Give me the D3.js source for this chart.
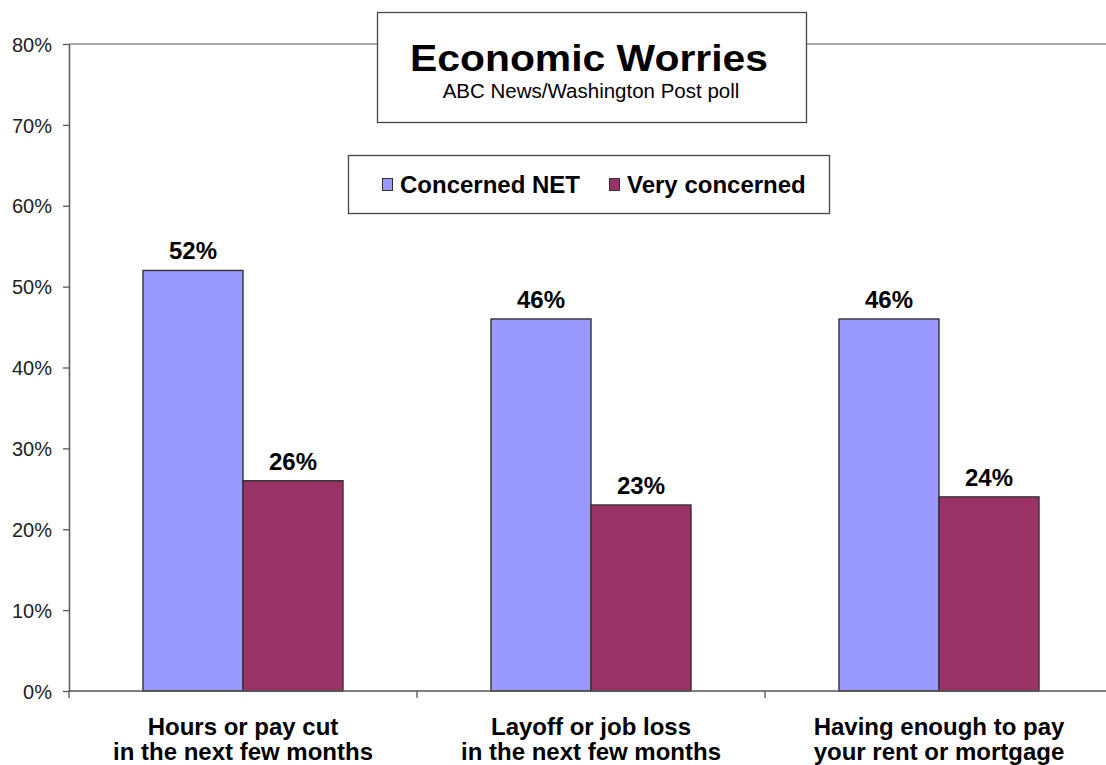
<!DOCTYPE html>
<html>
<head>
<meta charset="utf-8">
<script src="https://cdn.jsdelivr.net/npm/d3@7"></script>
<style>
  html, body { margin: 0; padding: 0; background: #fff; }
  svg { display: block; font-family: "Liberation Sans", Arial, sans-serif; }
</style>
</head>
<body>
<svg id="chart" width="1106" height="765"></svg>
<script>
// Survey data
const categories = [
  ["Hours or pay cut", "in the next few months"],
  ["Layoff or job loss", "in the next few months"],
  ["Having enough to pay", "your rent or mortgage"]
];
const seriesNames = ["Concerned NET", "Very concerned"];
const concernedNet = [52, 46, 46];
const veryConcerned = [26, 23, 24];
const yTicks = [0, 10, 20, 30, 40, 50, 60, 70, 80];
const colors = ["#9999FF", "#993366"];

const svg = d3.select("#chart");
const margin = { left: 69, top: 44, bottom: 691, right: 1113 };

const x = d3.scaleBand()
  .domain(d3.range(categories.length))
  .range([margin.left, margin.right])
  .paddingInner(0).paddingOuter(0);

const y = d3.scaleLinear().domain([0, 80]).range([margin.bottom, margin.top]);

const inner = d3.scaleBand()
  .domain(d3.range(seriesNames.length))
  .range([0, x.bandwidth()])
  .paddingInner(0)
  .paddingOuter(0.74);

// top gridline
svg.append("line")
  .attr("x1", margin.left).attr("x2", 1106)
  .attr("y1", y(80)).attr("y2", y(80))
  .attr("stroke", "#8c8c8c").attr("stroke-width", 1.3);

// bars and value labels
const seriesData = [concernedNet, veryConcerned];
seriesData.forEach((vals, si) => {
  svg.append("g").selectAll("rect")
    .data(vals)
    .join("rect")
    .attr("x", (d, i) => x(i) + inner(si))
    .attr("y", d => y(d))
    .attr("width", inner.bandwidth())
    .attr("height", d => y(0) - y(d))
    .attr("fill", colors[si])
    .attr("stroke", "#333")
    .attr("stroke-width", 1.4);

  svg.append("g").selectAll("text")
    .data(vals)
    .join("text")
    .attr("x", (d, i) => x(i) + inner(si) + inner.bandwidth() / 2)
    .attr("y", d => y(d) - 11)
    .attr("text-anchor", "middle")
    .attr("font-size", 24)
    .attr("font-weight", "bold")
    .attr("fill", "#000")
    .text(d => d + "%");
});

// y axis
const yAxis = d3.axisLeft(y)
  .tickValues(yTicks)
  .tickFormat(d => d + "%")
  .tickSize(6)
  .tickSizeOuter(0);
const gy = svg.append("g").attr("transform", `translate(${margin.left},0)`).call(yAxis);
gy.select(".domain").attr("stroke", "#555").attr("stroke-width", 1.5);
gy.selectAll(".tick line").attr("stroke", "#555").attr("stroke-width", 1.3);
gy.selectAll(".tick text")
  .attr("x", -17)
  .attr("dy", "0.36em")
  .attr("font-size", 20)
  .attr("font-family", "Liberation Sans, Arial, sans-serif")
  .attr("fill", "#222");

// x axis
svg.append("line")
  .attr("x1", margin.left).attr("x2", 1106)
  .attr("y1", y(0)).attr("y2", y(0))
  .attr("stroke", "#555").attr("stroke-width", 1.5);
svg.append("g").selectAll("line")
  .data(d3.range(categories.length + 1))
  .join("line")
  .attr("x1", i => margin.left + i * x.step())
  .attr("x2", i => margin.left + i * x.step())
  .attr("y1", y(0)).attr("y2", y(0) + 7)
  .attr("stroke", "#555").attr("stroke-width", 1.3);

// category labels
categories.forEach((lines, i) => {
  const cx = x(i) + x.bandwidth() / 2;
  const t = svg.append("text")
    .attr("x", cx)
    .attr("y", 735)
    .attr("text-anchor", "middle")
    .attr("font-size", 24)
    .attr("font-weight", "bold")
    .attr("fill", "#000");
  lines.forEach((l, j) => {
    t.append("tspan").attr("x", cx).attr("dy", j === 0 ? 0 : 25).text(l);
  });
});

// title box
svg.append("rect")
  .attr("x", 377.5).attr("y", 12.5).attr("width", 429).attr("height", 110)
  .attr("fill", "#fff").attr("stroke", "#444").attr("stroke-width", 1.3);
svg.append("text")
  .attr("x", 410).attr("y", 71)
  .attr("font-size", 37)
  .attr("font-weight", "bold")
  .attr("textLength", 358)
  .attr("lengthAdjust", "spacingAndGlyphs")
  .attr("fill", "#000")
  .text("Economic Worries");
svg.append("text")
  .attr("x", 591).attr("y", 98)
  .attr("text-anchor", "middle")
  .attr("font-size", 20.5)
  .attr("fill", "#000")
  .text("ABC News/Washington Post poll");

// legend
svg.append("rect")
  .attr("x", 348.5).attr("y", 155.5).attr("width", 481).attr("height", 58)
  .attr("fill", "#fff").attr("stroke", "#444").attr("stroke-width", 1.3);
const legendX = [382, 609];
seriesNames.forEach((name, i) => {
  svg.append("rect")
    .attr("x", legendX[i] + 0.5).attr("y", 178.5).attr("width", 10).attr("height", 12)
    .attr("fill", colors[i]).attr("stroke", "#333").attr("stroke-width", 1);
  svg.append("text")
    .attr("x", legendX[i] + 18).attr("y", 193)
    .attr("font-size", 24)
    .attr("font-weight", "bold")
    .attr("fill", "#000")
    .text(name);
});
</script>
</body>
</html>
